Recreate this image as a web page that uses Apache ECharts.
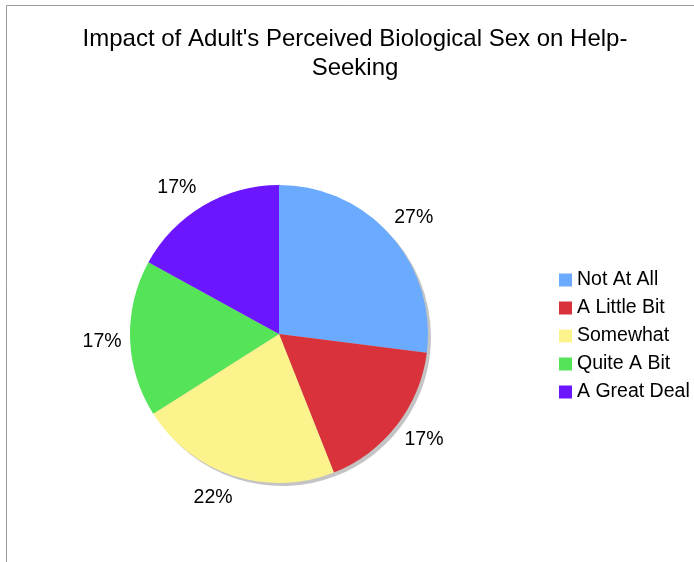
<!DOCTYPE html>
<html>
<head>
<meta charset="utf-8">
<script src="https://cdn.jsdelivr.net/npm/echarts@6/dist/echarts.min.js"></script>
<style>
  html, body { margin: 0; padding: 0; background: #fff; }
  #chart { width: 694px; height: 562px; }
</style>
</head>
<body>
<div id="chart"></div>
<script>
// Survey responses (percent of respondents)
const categories = ['Not At All', 'A Little Bit', 'Somewhat', 'Quite A Bit', 'A Great Deal'];
const percents = [27, 17, 22, 17, 17];
const sliceColors = ['#6aaaff', '#d9323a', '#fcf38c', '#55e357', '#6c16ff'];
const chartTitle = "Impact of Adult's Perceived Biological Sex on Help-\nSeeking";
// small per-label nudges so the percentage labels clear the rim evenly
const labelNudge = [[-1, 3], [2, -5], [-10, -9], [4, 2], [-10, 9]];

const pieData = categories.map((name, i) => ({ name, value: percents[i] }));
const labelData = pieData.map((d, i) => ({
  name: d.name,
  value: d.value,
  label: { offset: labelNudge[i] }
}));

const FONT = 'Liberation Sans, Arial, Helvetica, sans-serif';
const CENTER = [279, 334];
const RADIUS = 149;

const chart = echarts.init(document.getElementById('chart'), null, { renderer: 'canvas' });

chart.setOption({
  animation: false,
  backgroundColor: '#ffffff',
  color: sliceColors,
  title: {
    text: chartTitle,
    left: 355,
    textAlign: 'center',
    top: 25,
    padding: 0,
    textStyle: {
      fontFamily: FONT,
      fontSize: 24,
      fontWeight: 'normal',
      color: '#000',
      lineHeight: 29
    }
  },
  legend: {
    orient: 'vertical',
    left: 554,
    top: 265,
    itemWidth: 13,
    itemHeight: 13,
    itemGap: 8,
    icon: 'rect',
    data: categories,
    textStyle: { fontFamily: FONT, fontSize: 19.5, color: '#000', padding: [0, 0, 0, 0] }
  },
  graphic: [{
    type: 'polyline',
    silent: true,
    shape: { points: [[6.5, 562], [6.5, 5.5], [694, 5.5]] },
    style: { stroke: '#9a9a9a', lineWidth: 1, fill: null }
  }],
  series: [
    {
      // main pie
      type: 'pie',
      name: 'main',
      center: CENTER,
      radius: [0, RADIUS],
      startAngle: 90,
      clockwise: true,
      z: 3,
      silent: true,
      label: { show: false },
      labelLine: { show: false },
      itemStyle: { borderWidth: 0 },
      data: pieData
    },
    {
      // invisible ring that carries the percentage labels
      type: 'pie',
      name: 'labels',
      center: CENTER,
      radius: [169, 187],
      startAngle: 90,
      clockwise: true,
      z: 4,
      silent: true,
      percentPrecision: 0,
      itemStyle: { color: 'rgba(0,0,0,0)', borderWidth: 0 },
      label: {
        show: true,
        position: 'inside',
        formatter: '{d}%',
        fontFamily: FONT,
        fontSize: 19.5,
        color: '#000'
      },
      labelLine: { show: false },
      data: labelData
    },
    {
      // drop shadow under the pie
      type: 'pie',
      name: 'shadow',
      center: [CENTER[0] + 3, CENTER[1] + 3],
      radius: [0, RADIUS],
      startAngle: 90,
      z: 1,
      silent: true,
      label: { show: false },
      labelLine: { show: false },
      itemStyle: { color: '#c4c4c4', borderWidth: 0 },
      data: pieData
    }
  ]
});
</script>
</body>
</html>
